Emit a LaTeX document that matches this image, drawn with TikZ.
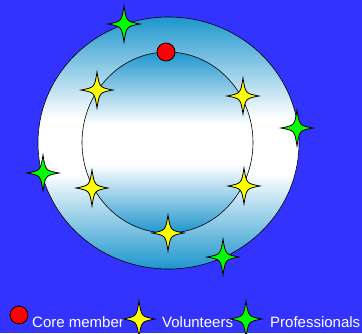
\documentclass[tikz,border=0pt]{standalone}
\usepackage{fontspec}
\setmainfont{Liberation Sans}
\definecolor{bgblue}{RGB}{51,51,255}
\definecolor{ringblue}{RGB}{30,150,205}
\definecolor{volyellow}{RGB}{255,255,0}
\definecolor{progreen}{RGB}{0,255,0}
\pgfdeclareverticalshading{ringfade}{100bp}{color(0bp)=(ringblue); color(25bp)=(ringblue);
  color(44bp)=(white); color(55bp)=(white); color(75bp)=(ringblue); color(100bp)=(ringblue)}
\tikzset{
  sparkle/.pic={
    \draw[fill=#1,line width=0.8pt,line join=miter]
      (16,0) .. controls (2.5,-2.5) .. (0,-18)
      .. controls (-2.5,-2.5) .. (-16,0)
      .. controls (-2.5,2.5) .. (0,18)
      .. controls (2.5,2.5) .. cycle;
  },
  ring/.style={shading=ringfade,draw=black,line width=0.6pt},
  legendtext/.style={anchor=base west,text=white,inner sep=0pt,font=\fontsize{15}{17}\selectfont}
}
\begin{document}
\begin{tikzpicture}[x=1pt,y=-1pt]
  \fill[bgblue] (0,0) rectangle (362,333);
  \useasboundingbox (0,0) rectangle (362,333);
  % the two rings
  \shade[ring] (168.5,143) ellipse [x radius=130.5,y radius=126];
  \shade[ring] (167.5,142.5) ellipse [x radius=85.5,y radius=90.5];
  % core member
  \draw[fill=red,line width=0.8pt] (166,52) circle (9);
  % volunteers on the inner ring
  \foreach \xp/\yp in {97/90,243/96,92/188,244/186,168/233}
    \pic at (\xp,\yp) {sparkle=volyellow};
  % professionals on the outer ring
  \foreach \xp/\yp in {124/24,297/128,43/173,223/257}
    \pic at (\xp,\yp) {sparkle=progreen};
  % legend
  \draw[fill=red,line width=0.8pt] (19,315) circle (9);
  \node[legendtext] (core) at (32,327) {Core member};
  \pic at (139,319) {sparkle=volyellow};
  \node[legendtext] (vol) at (162,327) {Volunteers};
  \pic at (246,319) {sparkle=progreen};
  \node[legendtext] (pro) at (270,327) {Professionals};
\end{tikzpicture}
\end{document}
